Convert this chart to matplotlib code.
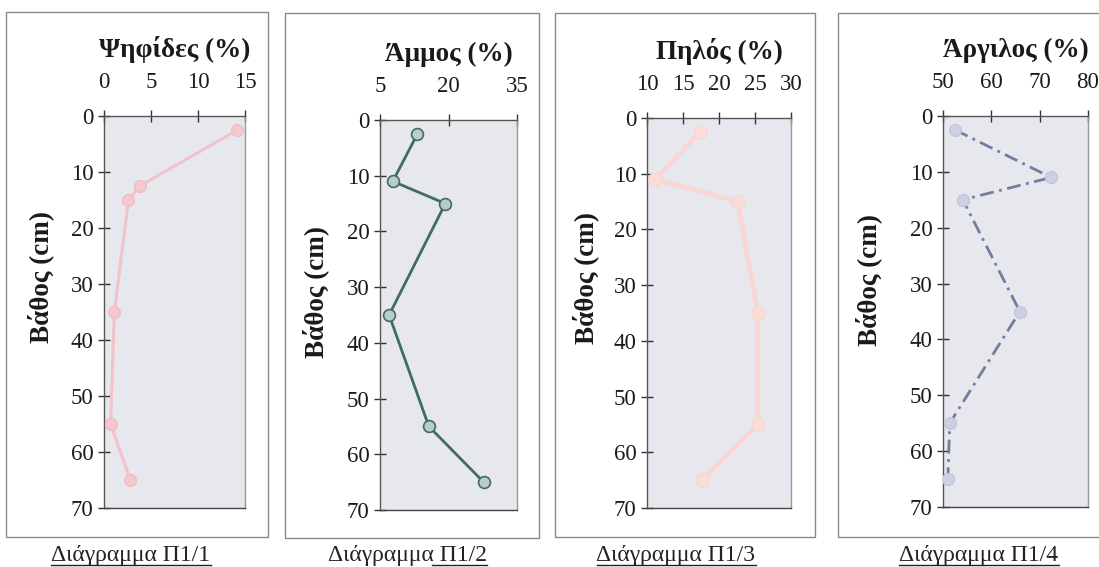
import matplotlib
matplotlib.use("Agg")
import matplotlib.pyplot as plt
from matplotlib.patches import Rectangle
from matplotlib.lines import Line2D

# ---------------- data ----------------
titles = ["Ψηφίδες (%)", "Άμμος (%)", "Πηλός (%)", "Άργιλος (%)"]
captions = ["Διάγραμμα Π1/1", "Διάγραμμα Π1/2", "Διάγραμμα Π1/3", "Διάγραμμα Π1/4"]
ylabel = "Βάθος (cm)"

depth_gravel = [2.5, 12.5, 15, 35, 55, 65]
gravel = [14.2, 3.8, 2.6, 1.1, 0.7, 2.8]

depth_sand = [2.5, 11, 15, 35, 55, 65]
sand = [13.2, 7.8, 19.3, 7.0, 15.7, 27.7]

depth_silt = [2.5, 11, 15, 35, 55, 65]
silt = [17.4, 11.1, 22.6, 25.4, 25.4, 17.6]

depth_clay = [2.5, 11, 15, 35, 55, 65]
clay = [52.5, 72.4, 54.1, 65.9, 51.4, 51.0]

xticks = [[0, 5, 10, 15], [5, 20, 35], [10, 15, 20, 25, 30], [50, 60, 70, 80]]
yticks = [0, 10, 20, 30, 40, 50, 60, 70]

# ---------------- layout ----------------
W, H = 1099, 567
fig = plt.figure(figsize=(W / 100, H / 100), dpi=100)
fig.patch.set_facecolor("white")
serif = ["Liberation Serif", "DejaVu Serif"]
plt.rcParams["font.family"] = serif

axes_px = [(104, 245, 116, 508), (380, 517, 120, 510), (647, 791, 118, 508), (943, 1088, 116, 507)]
boxes_px = [(6, 268, 12, 537), (285, 539, 13, 538), (555, 815, 13, 537), (838, 1110, 13, 537)]
ylab_frac = [0.59, 0.56, 0.59, 0.58]
ylab_x_px = [41, 316, 586, 869]
cap_x_px = [131, 407, 676, 979]
cap_underline_all = [True, False, True, True]

series = [
    (gravel, depth_gravel, dict(color="#f2c3c9", lw=2.2, marker="o", ms=8.5, mfc="#f4c8ce", mec="#efbcc3")),
    (sand, depth_sand, dict(color="#3f6d60", lw=2.0, marker="o", ms=8.5, mfc="#b9ccc5", mec="#3f6d60", mew=1.2)),
    (silt, depth_silt, dict(color="#f8d6d3", lw=3.5, marker="o", ms=9.5, mfc="#fadcd9", mec="#f8d6d3")),
    (clay, depth_clay, dict(color="#767ba0", lw=2.0, ls=(0, (5, 2, 1, 2)), marker="o", ms=8.5, mfc="#cdcfe2", mec="#c3c5dc")),
]

for i in range(4):
    # panel frame
    bx0, bx1, by0, by1 = boxes_px[i]
    fig.add_artist(Rectangle((bx0 / W, 1 - by1 / H), (bx1 - bx0) / W, (by1 - by0) / H,
                             transform=fig.transFigure, fill=False, edgecolor="#8a8a8a", lw=1.0))

    l, r, t, b = axes_px[i]
    ax = fig.add_axes([l / W, 1 - b / H, (r - l) / W, (b - t) / H])
    ax.set_facecolor("#e6e8ee")
    x, d, style = series[i]
    ax.plot(x, d, **style, zorder=3)

    xt = xticks[i]
    ax.set_xlim(xt[0], xt[-1])
    ax.set_ylim(70, 0)
    ax.set_xticks(xt)
    ax.set_yticks(yticks)
    ax.xaxis.tick_top()
    ax.tick_params(axis="both", direction="inout", length=9, width=1.0, color="#333333",
                   labelsize=16.5, labelcolor="#1a1a1a")
    ax.tick_params(axis="x", pad=12)
    ax.tick_params(axis="y", pad=3)
    for sp in ax.spines.values():
        sp.set_color("#555555")
        sp.set_linewidth(1.0)
    ax.spines["right"].set_color("#999999")
    ax.spines["bottom"].set_color("#444444")

    ax.set_title(titles[i], fontsize=19.5, fontweight="bold", pad=11, color="#1a1a1a")
    ax.set_ylabel(ylabel, fontsize=19.5, fontweight="bold", color="#1a1a1a", va="center")
    ax.yaxis.set_label_coords((ylab_x_px[i] - l) / (r - l), ylab_frac[i])

    txt = fig.text(cap_x_px[i] / W, 1 - 555 / H, captions[i], ha="center", va="center",
                   fontsize=17, color="#222222")

fig.canvas.draw()
renderer = fig.canvas.get_renderer()
for t, under_all in zip([tx for tx in fig.texts], cap_underline_all):
    bb = t.get_window_extent(renderer)
    x0 = bb.x0
    if not under_all:
        x0 = bb.x0 + bb.width * 0.66
    y = bb.y0 + 1
    fig.add_artist(Line2D([x0 / W, bb.x1 / W], [y / H, y / H], transform=fig.transFigure,
                          color="#222222", lw=1.0))

fig.savefig("out.png", dpi=100)
